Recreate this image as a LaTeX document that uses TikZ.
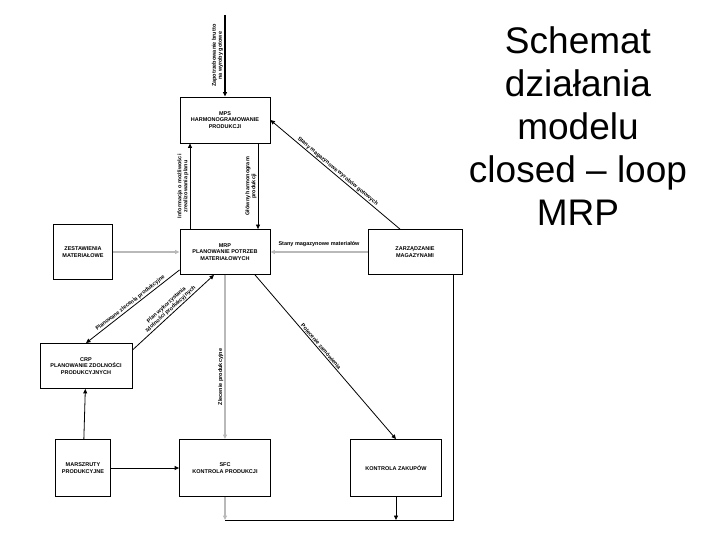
\documentclass[tikz,border=0pt]{standalone}
\usepackage{fontspec}
\setmainfont{Liberation Sans}
\usetikzlibrary{arrows.meta}
\begin{document}
\begin{tikzpicture}[x=1pt,y=-1pt,
  box/.style={draw,thick,fill=white,align=center,font=\fontsize{5.5}{6.5}\selectfont\bfseries,inner sep=1pt},
  tip/.style={-{Triangle[length=4.5pt,width=4pt]}},
  arr/.style={tip,line width=0.8pt},
  garr/.style={tip,draw=gray!55,line width=1.6pt},
  lab/.style={font=\fontsize{5.5}{6}\selectfont\bfseries,align=center,inner sep=1pt}]
\useasboundingbox (0,0) rectangle (720,540);
\node[box,minimum width=90pt,minimum height=46pt] (mps) at (225,120) {MPS\\HARMONOGRAMOWANIE\\PRODUKCJI};
\node[box,minimum width=90pt,minimum height=45pt] (mrp) at (225,252) {MRP\\PLANOWANIE POTRZEB\\MATERIAŁOWYCH};
\node[box,minimum width=59pt,minimum height=55pt] (zest) at (83,252) {ZESTAWIENIA\\MATERIAŁOWE};
\node[box,minimum width=94pt,minimum height=45pt] (mag) at (415,252) {ZARZĄDZANIE\\MAGAZYNAMI};
\node[box,minimum width=92pt,minimum height=45pt] (crp) at (86,366) {CRP\\PLANOWANIE ZDOLNOŚCI\\PRODUKCYJNYCH};
\node[box,minimum width=55pt,minimum height=57pt] (mar) at (83,468) {MARSZRUTY\\PRODUKCYJNE};
\node[box,minimum width=91pt,minimum height=57pt] (sfc) at (225,468) {SFC\\KONTROLA PRODUKCJI};
\node[box,minimum width=91pt,minimum height=57pt] (zak) at (396,468) {KONTROLA ZAKUPÓW};
\coordinate (top) at (225,15);
\coordinate (bl) at (225,520);
\coordinate (bz) at (396,520);
\coordinate (br) at (453,520);
\draw[tip,line width=2pt] (top) -- (mps.north) node[lab,midway,rotate=90,above] {Zapotrzebowanie brutto\\na wyroby gotowe};
\draw[arr] (mps.south -| 258,0) -- (mrp.north -| 258,0) node[lab,midway,rotate=90,above] {Główny harmonogram\\produkcji};
\draw[arr] (mrp.north -| 190,0) -- (mps.south -| 190,0) node[lab,midway,rotate=90,above] {Informacja o możliwości\\zrealizowania planu};
\draw[arr] (mag.north) ++(-15,0) coordinate (mg) -- (mps.east) node[lab,midway,sloped,above] {Stany magazynowe wyrobów gotowych};
\draw[garr] (zest) -- (mrp);
\draw[garr] (mag) -- (mrp) node[lab,pos=0.5,above,text=black,yshift=4pt] {Stany magazynowe materiałów};
\draw[arr] (mrp.south west) ++(0,-5) -- (crp.north) node[lab,midway,sloped,above] {Planowane zlecenia produkcyjne};
\draw[arr] (crp.north east) ++(0,7) -- ([xshift=-11pt]mrp.south) node[lab,midway,sloped,above] {Plan wykorzystania\\zdolności produkcyjnych};
\draw[garr] (mrp) -- (sfc) node[lab,midway,rotate=90,above,text=black,xshift=-20pt] {Zlecenie produkcyjne};
\draw[arr] ([xshift=30pt]mrp.south) -- (zak.north) node[lab,pos=0.45,sloped,above] {Polecenie zamówienia};
\draw[arr] (mar) -- (crp);
\draw[arr] (mar) -- (sfc);
\draw[garr] (sfc) -- (bl);
\draw[arr] (zak) -- (bz);
\draw[thick] (bl) -- (br) -- (mag.south -| br);
\node[font=\fontsize{37}{43}\selectfont,align=center] (title) at (578,126) {Schemat\\działania\\modelu\\closed – loop\\MRP};
\end{tikzpicture}
\end{document}
